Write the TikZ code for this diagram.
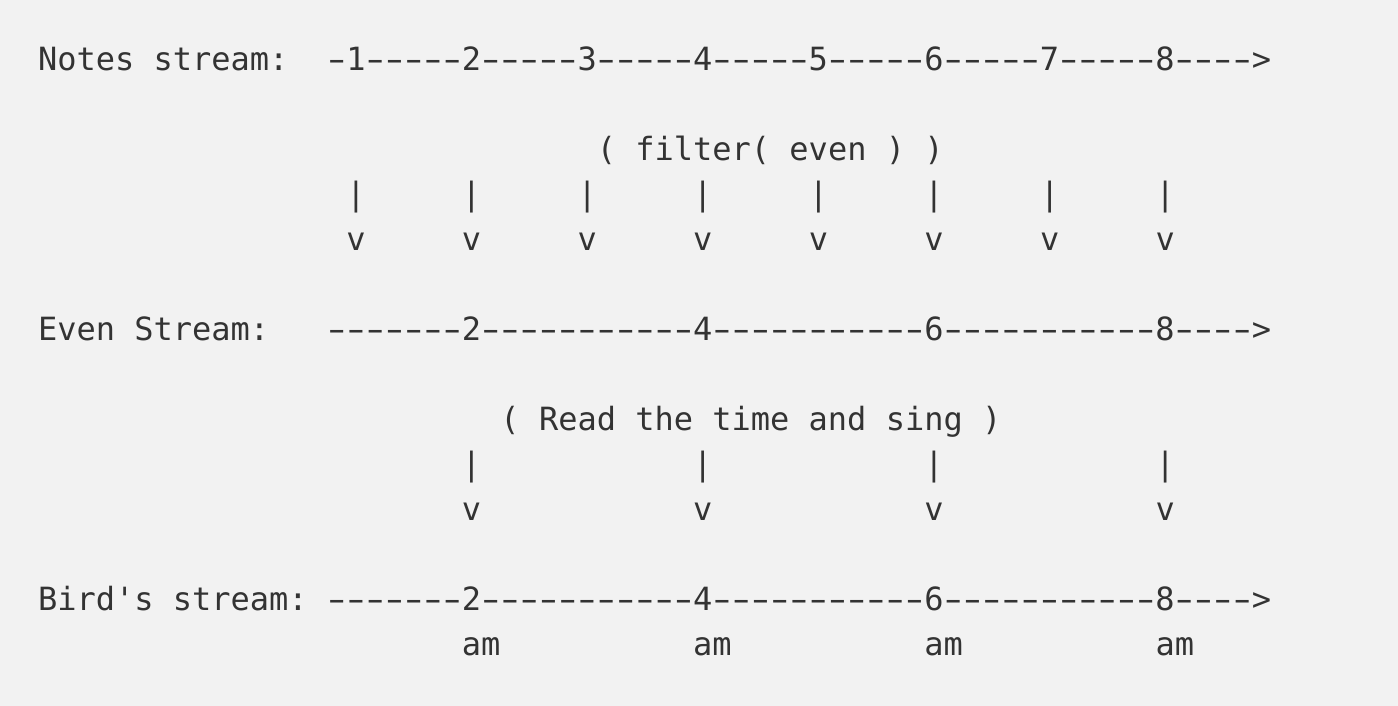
\documentclass[tikz,border=0pt]{standalone}
\usepackage{fontspec}
\setmonofont{DejaVu Sans Mono}
\definecolor{bg}{HTML}{F2F2F2}
\definecolor{ink}{HTML}{333333}
\tikzset{
  txt/.style={font=\ttfamily\fontsize{32}{40}\selectfont, anchor=base west, inner sep=0pt, outer sep=0pt, text=ink}
}
\newcommand\dsh{\makebox[0.60205em][c]{\scalebox{1.6}[1]{-}}}
\newcommand\Dn[1]{\foreach\j in {1,...,#1}{\dsh}}
\begin{document}
\begin{tikzpicture}[x=19.27pt,y=-44.95pt]
\fill[bg] (0pt,0pt) rectangle (1398pt,-706pt);
\useasboundingbox (0pt,0pt) rectangle (1398pt,-706pt);
\begin{scope}[shift={(38pt,-70.7pt)}]
% row 0: notes stream
\node[txt] (notesLabel) at (0,0) {Notes stream:};
\node[txt] (notesLine) at (15,0) {\Dn{1}1\Dn{5}2\Dn{5}3\Dn{5}4\Dn{5}5\Dn{5}6\Dn{5}7\Dn{5}8\Dn{4}>};
% row 2: filter
\node[txt] (filter) at (29,2) {( filter( even ) )};
% rows 3-4: arrows
\foreach \i [count=\k] in {16,22,28,34,40,46,52,58}{
  \node[txt] (barA\k) at (\i,3) {|};
  \node[txt] (vA\k) at (\i,4) {v};
}
% row 6: even stream
\node[txt] (evenLabel) at (0,6) {Even Stream:};
\node[txt] (evenLine) at (15,6) {\Dn{7}2\Dn{11}4\Dn{11}6\Dn{11}8\Dn{4}>};
% row 8: read and sing
\node[txt] (sing) at (24,8) {( Read the time and sing )};
% rows 9-10
\foreach \i [count=\k] in {22,34,46,58}{
  \node[txt] (barB\k) at (\i,9) {|};
  \node[txt] (vB\k) at (\i,10) {v};
}
% row 12: bird's stream
\node[txt] (birdLabel) at (0,12) {Bird's stream:};
\node[txt] (birdLine) at (15,12) {\Dn{7}2\Dn{11}4\Dn{11}6\Dn{11}8\Dn{4}>};
% row 13: am
\foreach \i [count=\k] in {22,34,46,58}{
  \node[txt] (am\k) at (\i,13) {am};
}
\end{scope}
\end{tikzpicture}
\end{document}
